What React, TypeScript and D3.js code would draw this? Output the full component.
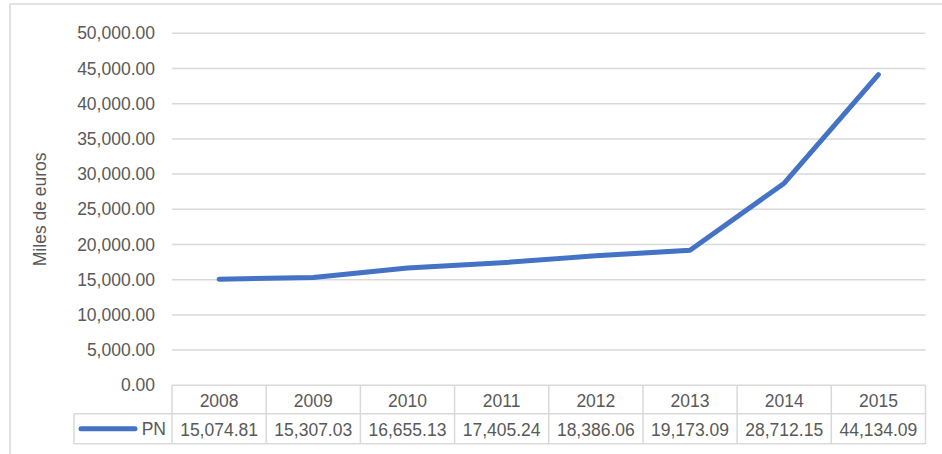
import React from "react";
import * as d3 from "d3";

const years = ["2008", "2009", "2010", "2011", "2012", "2013", "2014", "2015"];
const pnValues = [15074.81, 15307.03, 16655.13, 17405.24, 18386.06, 19173.09, 28712.15, 44134.09];
const yTicks = [0, 5000, 10000, 15000, 20000, 25000, 30000, 35000, 40000, 45000, 50000];
const seriesName = "PN";
const axisTitle = "Miles de euros";

const W = 942;
const H = 454;
const FONT = "'Liberation Sans', Arial, sans-serif";
const TEXT = "#595959";
const GRID = "#d9d9d9";
const LINE = "#4472c4";
const FS = 17.5;

export default function App() {
  const plotLeft = 172;
  const plotRight = 925.5;
  const plotTop = 33.3;
  const plotBottom = 385.3;
  const rowH = 28.5;
  const headerTop = plotBottom;
  const dataTop = headerTop + rowH;
  const dataBottom = dataTop + 30;
  const legendLeft = 74;

  const x = d3.scaleBand<string>().domain(years).range([plotLeft, plotRight]).padding(0);
  const y = d3.scaleLinear().domain([0, 50000]).range([plotBottom, plotTop]);
  const fmt = d3.format(",.2f");

  const line = d3
    .line<number>()
    .x((_, i) => (x(years[i]) as number) + x.bandwidth() / 2)
    .y((d) => y(d));

  return (
    <svg
      width={W}
      height={H}
      style={{ position: "absolute", left: 0, top: 0 }}
      fontFamily={FONT}
    >
      <rect x={0} y={0} width={W} height={H} fill="#fff" />
      {/* chart frame */}
      <rect x={10} y={4} width={W + 20} height={H + 20} fill="none" stroke={GRID} strokeWidth={1.5} />

      {/* gridlines and tick labels */}
      {yTicks.map((t) => (
        <g key={t}>
          {t > 0 && (
            <line x1={plotLeft} x2={plotRight} y1={y(t)} y2={y(t)} stroke={GRID} strokeWidth={1.5} />
          )}
          <text
            x={155}
            y={y(t)}
            textAnchor="end"
            dominantBaseline="central"
            fontSize={FS}
            fill={TEXT}
          >
            {fmt(t)}
          </text>
        </g>
      ))}

      {/* axis title */}
      <text
        transform={`translate(40,${(plotTop + plotBottom) / 2}) rotate(-90)`}
        textAnchor="middle"
        dominantBaseline="central"
        fontSize={FS}
        fill={TEXT}
      >
        {axisTitle}
      </text>

      {/* data table */}
      <g stroke={GRID} strokeWidth={1.5} fill="none">
        <line x1={plotLeft} x2={plotRight} y1={headerTop} y2={headerTop} />
        <line x1={legendLeft} x2={plotRight} y1={dataTop} y2={dataTop} />
        <line x1={legendLeft} x2={plotRight} y1={dataBottom} y2={dataBottom} />
        <line x1={legendLeft} x2={legendLeft} y1={dataTop} y2={dataBottom} />
        {years.map((yr) => (
          <line key={yr} x1={x(yr) as number} x2={x(yr) as number} y1={headerTop} y2={dataBottom} />
        ))}
        <line x1={plotRight} x2={plotRight} y1={headerTop} y2={dataBottom} />
      </g>
      {years.map((yr, i) => (
        <g key={yr}>
          <text
            x={(x(yr) as number) + x.bandwidth() / 2}
            y={(headerTop + dataTop) / 2 + 1}
            textAnchor="middle"
            dominantBaseline="central"
            fontSize={FS}
            fill={TEXT}
          >
            {yr}
          </text>
          <text
            x={(x(yr) as number) + x.bandwidth() / 2}
            y={(dataTop + dataBottom) / 2 + 1}
            textAnchor="middle"
            dominantBaseline="central"
            fontSize={FS}
            fill={TEXT}
          >
            {fmt(pnValues[i])}
          </text>
        </g>
      ))}
      {/* legend key */}
      <line
        x1={81}
        x2={135}
        y1={(dataTop + dataBottom) / 2}
        y2={(dataTop + dataBottom) / 2}
        stroke={LINE}
        strokeWidth={5}
        strokeLinecap="round"
      />
      <text
        x={166}
        y={(dataTop + dataBottom) / 2}
        textAnchor="end"
        dominantBaseline="central"
        fontSize={FS}
        fill={TEXT}
      >
        {seriesName}
      </text>

      {/* series line */}
      <path
        d={line(pnValues) as string}
        fill="none"
        stroke={LINE}
        strokeWidth={5}
        strokeLinecap="round"
        strokeLinejoin="round"
      />
    </svg>
  );
}
